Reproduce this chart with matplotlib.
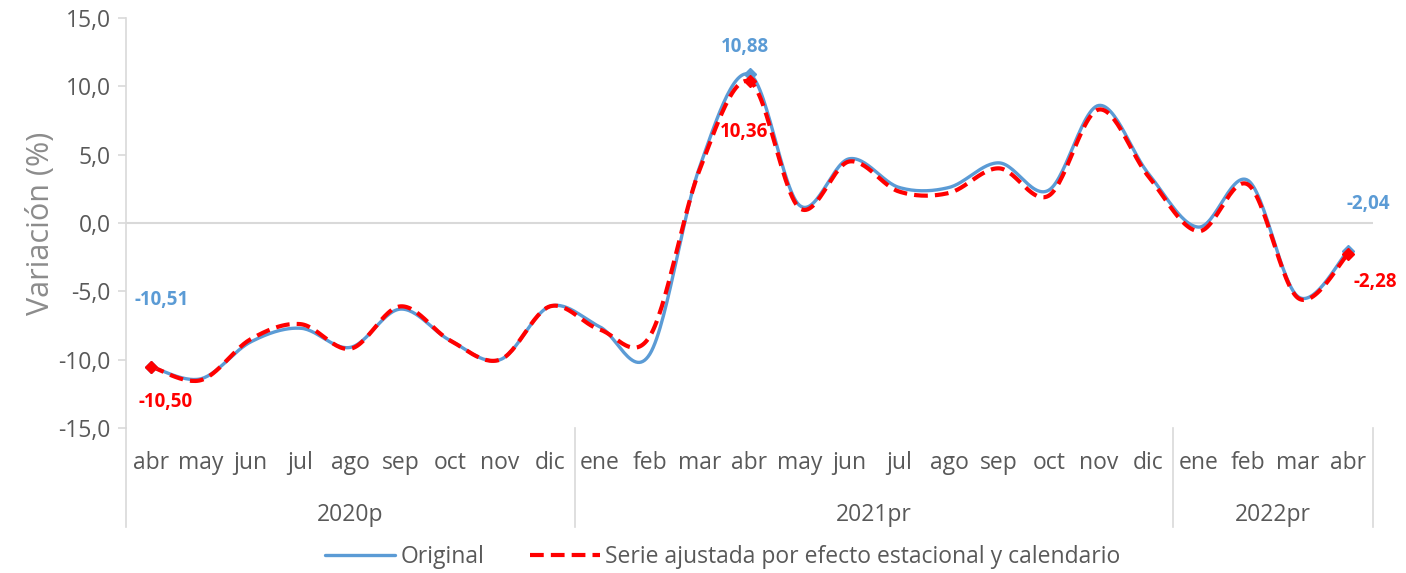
import matplotlib.pyplot as plt
import matplotlib.transforms as mtransforms
import numpy as np

plt.rcParams['font.family'] = ['Open Sans', 'DejaVu Sans']

# Datos
meses = ['abr', 'may', 'jun', 'jul', 'ago', 'sep', 'oct', 'nov', 'dic',
         'ene', 'feb', 'mar', 'abr', 'may', 'jun', 'jul', 'ago', 'sep', 'oct', 'nov', 'dic',
         'ene', 'feb', 'mar', 'abr']
anios = ['2020p', '2021pr', '2022pr']
meses_por_anio = [9, 12, 4]

original = [-10.51, -11.4, -8.7, -7.7, -9.1, -6.3, -8.6, -10.0, -6.1,
            -7.6, -9.6, 4.1, 10.88, 1.3, 4.7, 2.6, 2.6, 4.4, 2.4, 8.6, 3.6,
            -0.3, 3.1, -5.4, -2.04]
ajustada = [-10.50, -11.5, -8.5, -7.4, -9.2, -6.1, -8.6, -10.0, -6.1,
            -7.8, -8.3, 3.9, 10.36, 1.1, 4.5, 2.3, 2.2, 4.0, 2.0, 8.3, 3.4,
            -0.6, 2.8, -5.5, -2.28]

azul = '#5B9BD5'
rojo = '#FF0000'
gris = '#595959'
linea = '#D9D9D9'
fs = 16.5


def suavizar(y, n=30):
    # curva suavizada tipo Excel (Bezier con tangentes de Catmull-Rom)
    x = np.arange(len(y), dtype=float)
    y = np.asarray(y, dtype=float)
    P = np.column_stack([x, y])
    P = np.vstack([P[0], P, P[-1]])
    t = np.linspace(0, 1, n)[:, None]
    out = []
    for i in range(1, len(P) - 2):
        p0, p1, p2, p3 = P[i - 1], P[i], P[i + 1], P[i + 2]
        c1 = p1 + (p2 - p0) / 6
        c2 = p2 - (p3 - p1) / 6
        seg = ((1 - t) ** 3) * p1 + 3 * ((1 - t) ** 2) * t * c1 + 3 * (1 - t) * t ** 2 * c2 + t ** 3 * p2
        out.append(seg)
    out = np.vstack(out)
    return out[:, 0], out[:, 1]


fig = plt.figure(figsize=(14.06, 5.73), dpi=100)
ax = fig.add_axes([126 / 1406, 1 - 428 / 573, (1373 - 126) / 1406, 410 / 573])

xs, ys = suavizar(original)
ax.plot(xs, ys, color=azul, lw=2.4, label='Original', solid_capstyle='round')
xs, ys = suavizar(ajustada)
ax.plot(xs, ys, color=rojo, lw=3.0, ls=(0, (3.3, 1.7)),
        label='Serie ajustada por efecto estacional y calendario')

# Marcadores en puntos destacados
idx = [0, 12, 24]
ax.plot(idx, [original[i] for i in idx], ls='none', marker='D', ms=6, color=azul)
ax.plot(idx, [ajustada[i] for i in idx], ls='none', marker='D', ms=6, color=rojo)

fmt = lambda v: f'{v:.2f}'.replace('.', ',')
etiquetas = [
    (0, original, azul, (11, 67)),
    (0, ajustada, rojo, (15, -35)),
    (12, original, azul, (-5, 27)),
    (12, ajustada, rojo, (-5, -51)),
    (24, original, azul, (20, 47)),
    (24, ajustada, rojo, (27, -28)),
]
for i, serie, c, off in etiquetas:
    ax.annotate(fmt(serie[i]), (i, serie[i]), xytext=off, textcoords='offset pixels',
                ha='center', va='center', color=c, fontsize=13.5, fontweight='bold')

ax.set_xlim(-0.5, len(meses) - 0.5)
ax.set_ylim(-15, 15)
ax.set_yticks(np.arange(-15, 16, 5))
ax.set_yticklabels([f'{v:.1f}'.replace('.', ',') for v in np.arange(-15, 16, 5)],
                   fontsize=fs, color=gris)
ax.tick_params(axis='y', length=6, color=linea, width=1.2, pad=5)
ax.set_xticks([])
for s in ['top', 'right', 'bottom']:
    ax.spines[s].set_visible(False)
ax.spines['left'].set_color(linea)
ax.spines['left'].set_linewidth(1.2)
ax.axhline(0, color=linea, lw=1.5, zorder=0)
ax.set_ylabel('Variación (%)', fontsize=22, color='#8C8C8C', labelpad=2)

# Eje de categorias en dos niveles
trans = mtransforms.blended_transform_factory(ax.transData, fig.transFigure)
for i, m in enumerate(meses):
    ax.text(i, 1 - 463 / 573, m, transform=trans, ha='center', va='center',
            fontsize=fs, color=gris)
bordes = [-0.5]
for n in meses_por_anio:
    bordes.append(bordes[-1] + n)
for k, a in enumerate(anios):
    ax.text((bordes[k] + bordes[k + 1]) / 2, 1 - 515 / 573, a, transform=trans,
            ha='center', va='center', fontsize=fs, color=gris)
for b in bordes:
    ax.plot([b, b], [1 - 428 / 573, 1 - 527 / 573], transform=trans, color=linea,
            lw=1.2, clip_on=False)

fig.legend(loc='center', bbox_to_anchor=(0.514, 1 - 557 / 573), ncol=2, frameon=False,
           fontsize=fs, labelcolor=gris, handlelength=3.05, handletextpad=0.22,
           columnspacing=2.0)

fig.savefig('out.png', dpi=100)
